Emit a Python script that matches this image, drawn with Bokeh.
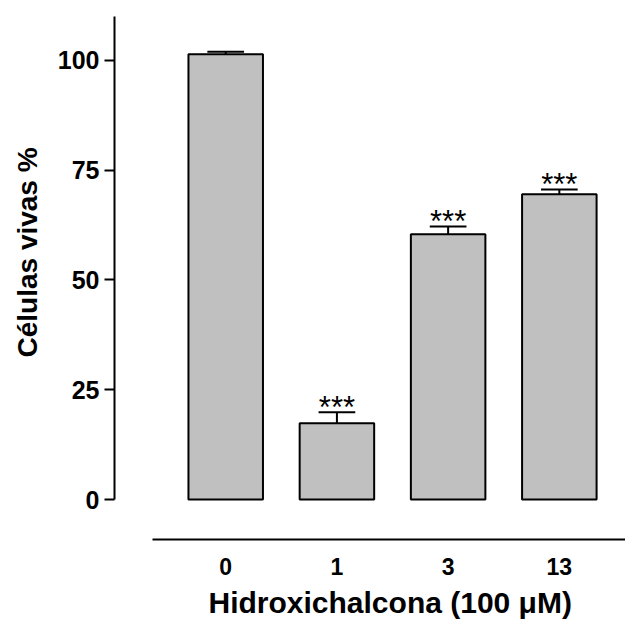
from bokeh.plotting import figure
from bokeh.models import LinearAxis, FixedTicker, Range1d, Title
from bokeh.embed import file_html
from bokeh.resources import INLINE
from bokeh.core.properties import value

# ---- data ----
categories = ["0", "1", "3", "13"]
viability = [101.4, 17.4, 60.4, 69.5]
sem = [0.6, 2.5, 1.8, 1.1]
significance = ["", "***", "***", "***"]
y_ticks = [0, 25, 50, 75, 100]
x_title = "Hidroxichalcona (100 \u03bcM)"
y_title = "C\u00e9lulas vivas %"

FONT = "Liberation Sans"
pos = list(range(1, len(categories) + 1))
err_top = [v + e for v, e in zip(viability, sem)]
cap_half = 0.165

p = figure(width=625, height=624, output_backend="svg", toolbar_location=None,
           x_range=Range1d(0, 4.595), y_range=Range1d(-9.09, 110),
           x_axis_location=None, y_axis_location=None,
           min_border_left=114, min_border_top=16, min_border_right=0,
           min_border_bottom=84)
p.outline_line_color = None
p.background_fill_color = "white"
for g in p.grid:
    g.visible = False

p.vbar(x=pos, top=viability, bottom=0, width=0.67, fill_color="#c0c0c0",
       line_color="black", line_width=2)
p.segment(x0=pos, y0=viability, x1=pos, y1=err_top, line_color="black", line_width=2)
p.segment(x0=[x - cap_half for x in pos], y0=err_top,
          x1=[x + cap_half for x in pos], y1=err_top,
          line_color="black", line_width=2)
p.text(x=pos, y=err_top, text=significance, text_align="center",
       text_baseline="alphabetic", y_offset=-5,
       text_font=value(FONT), text_font_size="31px", text_color="black")

yaxis = LinearAxis(bounds=(0, 110), ticker=FixedTicker(ticks=y_ticks),
                   major_tick_out=10, major_tick_in=0,
                   minor_tick_out=0, minor_tick_in=0,
                   axis_line_width=2, major_tick_line_width=2,
                   major_label_text_font=FONT, major_label_text_font_style="bold",
                   major_label_text_font_size="25px", major_label_standoff=5,
                   major_label_text_color="black")
p.add_layout(yaxis, "left")

xaxis = LinearAxis(bounds=(0.34, 4.595), ticker=FixedTicker(ticks=pos),
                   major_label_overrides={x: c for x, c in zip(pos, categories)},
                   major_tick_out=0, major_tick_in=0,
                   minor_tick_out=0, minor_tick_in=0,
                   axis_line_width=2,
                   major_label_text_font=FONT, major_label_text_font_style="bold",
                   major_label_text_font_size="23px", major_label_standoff=18,
                   major_label_text_color="black")
p.add_layout(xaxis, "below")

p.add_layout(Title(text=y_title, align="left", offset=182, standoff=20,
                   vertical_align="top",
                   text_font=FONT, text_font_style="bold",
                   text_font_size="28px", text_color="black"), "left")
p.add_layout(Title(text=x_title, align="left", offset=94, standoff=12,
                   text_font=FONT, text_font_style="bold",
                   text_font_size="30px", text_color="black"), "below")

open("out.html", "w").write(file_html(p, INLINE))
